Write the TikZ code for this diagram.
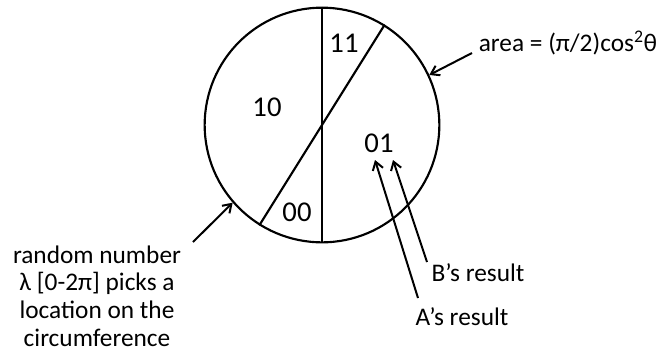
\documentclass[tikz,border=0pt]{standalone}
\usepackage{fontspec}
\setmainfont{Carlito}
\usetikzlibrary{arrows.meta}
\begin{document}
\begin{tikzpicture}
[x=0.75pt,y=-0.75pt,every node/.style={font=\fontsize{19}{20.8}\selectfont},
 region/.style={font=\fontsize{21.5}{24}\selectfont},
 ptr/.style={line width=1.5pt,-{Straight Barb[length=6pt,width=8pt,line width=1.5pt]}}]
\useasboundingbox (0,0) rectangle (660,355);
\node (disc) [circle,draw,line width=1.6pt,minimum size=176pt,inner sep=0pt] at (322,125) {};
\draw [line width=1.6pt] (disc.north) to (disc.south);
\draw [line width=1.6pt] (disc.58.5) to (disc.238.5);
\node (r11) [region] at (344,43) {11};
\node (r10) [region] at (267,107) {10};
\node (r01) [region] at (379,143) {01};
\node (r00) [region] at (297,212) {00};
\node (area) at (568,43) {area = (π/2)cos\textsuperscript{2}θ};
\node (lambda) [align=center] at (97,296) {random number\\λ [0-2π] picks a\\location on the\\circumference};
\node (bres) at (478,273) {B’s result};
\node (ares) at (462,317) {A’s result};
\coordinate (areatail) at (472,53);
\coordinate (lambdatail) at (193,242);
\coordinate (atail) at (418,298);
\coordinate (btail) at (427,262);
\coordinate (atip) at (375,160);
\coordinate (btip) at (393,160);
\draw [ptr] (areatail) to (disc.25);
\draw [ptr] (lambdatail) to (disc.221.5);
\draw [ptr] (atail) to (atip);
\draw [ptr] (btail) to (btip);
\end{tikzpicture}
\end{document}
